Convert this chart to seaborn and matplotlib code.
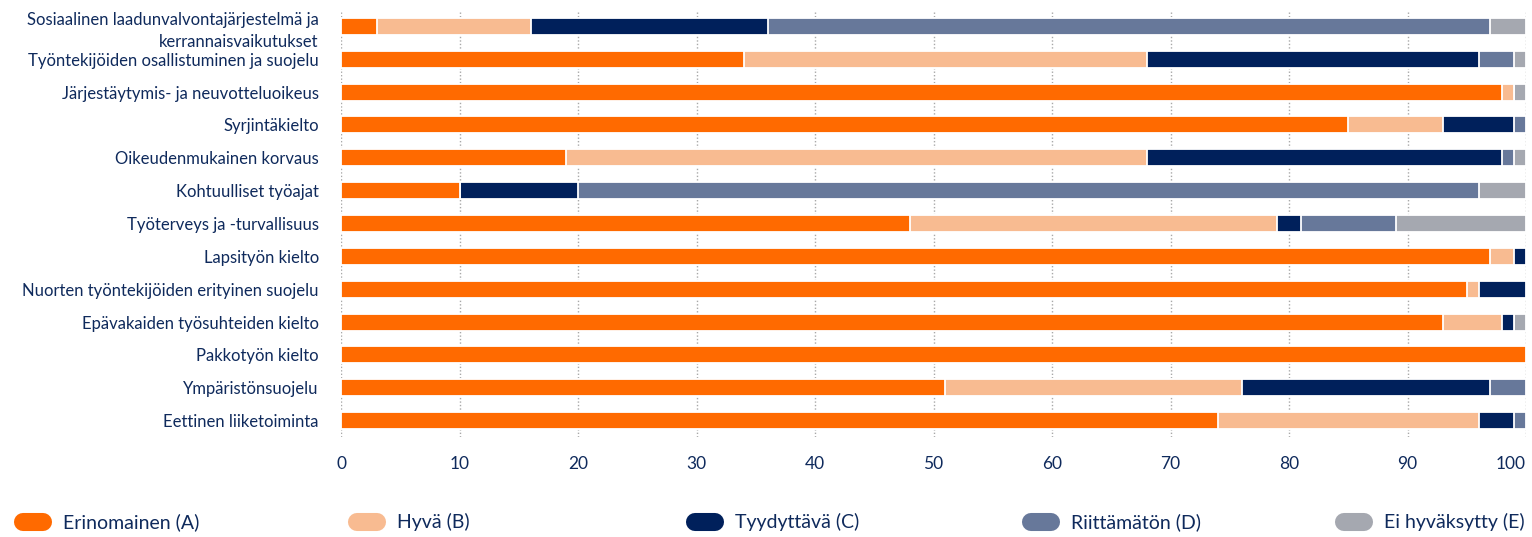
import matplotlib
matplotlib.use("Agg")
import matplotlib.pyplot as plt
import seaborn as sns
from matplotlib.lines import Line2D

# categories top -> bottom
categories = [
    "Sosiaalinen laadunvalvontajärjestelmä ja\nkerrannaisvaikutukset",
    "Työntekijöiden osallistuminen ja suojelu",
    "Järjestäytymis- ja neuvotteluoikeus",
    "Syrjintäkielto",
    "Oikeudenmukainen korvaus",
    "Kohtuulliset työajat",
    "Työterveys ja -turvallisuus",
    "Lapsityön kielto",
    "Nuorten työntekijöiden erityinen suojelu",
    "Epävakaiden työsuhteiden kielto",
    "Pakkotyön kielto",
    "Ympäristönsuojelu",
    "Eettinen liiketoiminta",
]

grade_labels = ["Erinomainen (A)", "Hyvä (B)", "Tyydyttävä (C)", "Riittämätön (D)", "Ei hyväksytty (E)"]
grade_colors = ["#FF6A00", "#F8BB91", "#00205B", "#67789A", "#A5A8B0"]

# percentages per grade
grade_a = [3, 34, 98, 85, 19, 10, 48, 97, 95, 93, 100, 51, 74]
grade_b = [13, 34, 1, 8, 49, 0, 31, 2, 1, 5, 0, 25, 22]
grade_c = [20, 28, 0, 6, 30, 10, 2, 1, 4, 1, 0, 21, 3]
grade_d = [61, 3, 0, 1, 1, 76, 8, 0, 0, 0, 0, 3, 1]
grade_e = [3, 1, 1, 0, 1, 4, 11, 0, 0, 1, 0, 0, 0]

text_col = "#0F2A5C"

sns.set_style("white")
plt.rcParams["font.family"] = ["Lato", "DejaVu Sans"]

fig = plt.figure(figsize=(15.32, 5.37), dpi=100)
ax = fig.add_axes([0.2226, 0.1862, 0.7735, 0.7952])

# stacked bars: draw cumulative totals from the longest down, each one on top
series = [grade_a, grade_b, grade_c, grade_d, grade_e]
cums = []
run = [0] * len(categories)
for s in series:
    run = [r + v for r, v in zip(run, s)]
    cums.append(run)

for cum, col in reversed(list(zip(cums, grade_colors))):
    sns.barplot(x=cum, y=categories, order=categories, orient="h", color=col,
                saturation=1, width=0.52, edgecolor="white", linewidth=1.3, ax=ax)

ax.set_xlim(0, 100)
ax.set_ylim(len(categories) - 0.5, -0.5)
ax.set_xticks(range(0, 101, 10))
ax.set_axisbelow(True)
ax.grid(axis="x", linestyle=(0, (1, 1.5)), color="#A8A8A8", linewidth=1)
ax.grid(axis="y", visible=False)
ax.set_xlabel("")
ax.set_ylabel("")
ax.tick_params(axis="x", length=0, pad=14, labelsize=12.5, labelcolor=text_col)
ax.tick_params(axis="y", length=0, pad=16, labelsize=12, labelcolor=text_col)
ax.get_xticklabels()[-1].set_ha("right")
for lab in ax.get_yticklabels():
    lab.set_linespacing(1.5)
sns.despine(left=True, bottom=True)

# legend with rounded pills
legend_x = [14, 348, 686, 1022, 1335]
W, H = 1532.0, 537.0
ly = 1 - 522 / H
for x, lab, col in zip(legend_x, grade_labels, grade_colors):
    fig.add_artist(Line2D([(x + 9) / W, (x + 29) / W], [ly, ly], transform=fig.transFigure,
                          color=col, linewidth=13, solid_capstyle="round"))
    fig.text((x + 49) / W, ly, lab, ha="left", va="center", fontsize=14, color=text_col)

fig.savefig("out.png", dpi=100)
